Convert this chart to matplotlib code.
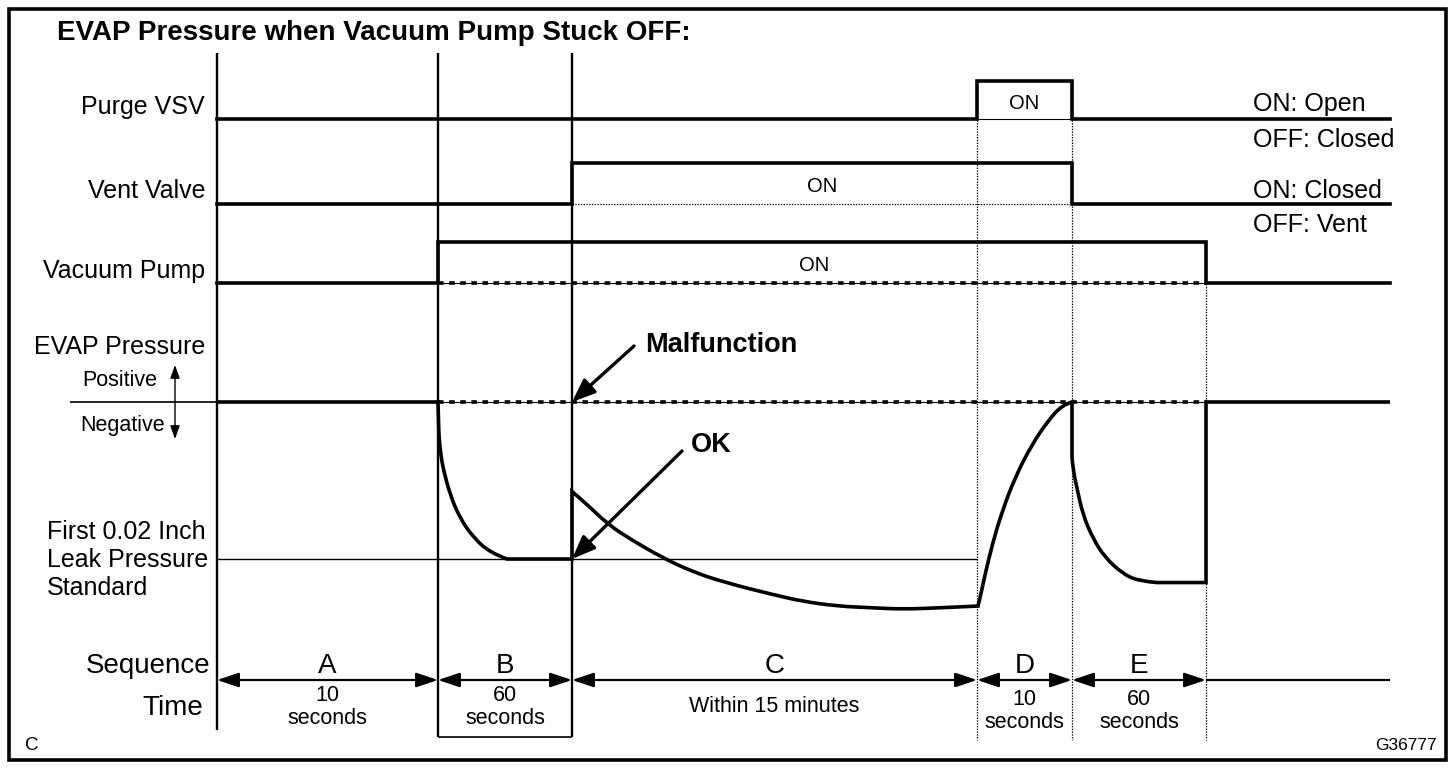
import matplotlib
matplotlib.use('Agg')
import matplotlib.pyplot as plt
from matplotlib.patches import Rectangle, PathPatch
from matplotlib.path import Path

plt.rcParams['font.family'] = ['Liberation Sans', 'DejaVu Sans']
plt.rcParams['lines.scale_dashes'] = False

# ---------------- data ----------------
phase_names = ['A', 'B', 'C', 'D', 'E']
phase_edges = [0.0, 2.21, 3.55, 7.60, 8.55, 9.89]     # schematic time axis
chart_end = 11.73
phase_time_labels = ['10\nseconds', '60\nseconds', 'Within 15 minutes',
                     '10\nseconds', '60\nseconds']

signal_names = ['Purge VSV', 'Vent Valve', 'Vacuum Pump']
# state per phase A..E, then after E
purge_vsv_state = [0, 0, 0, 1, 0, 0]
vent_valve_state = [0, 0, 1, 1, 0, 0]
vacuum_pump_state = [0, 1, 1, 1, 1, 0]
state_meanings = [['ON: Open', 'OFF: Closed'], ['ON: Closed', 'OFF: Vent']]

# EVAP pressure (0 = atmospheric, -1 = first 0.02 inch leak standard)
evap_b_t = [2.21, 2.215, 2.22, 2.24, 2.26, 2.33, 2.43, 2.56, 2.73, 2.90]
evap_b_p = [0.0, -0.11, -0.23, -0.34, -0.42, -0.59, -0.74, -0.86, -0.96, -1.00]
evap_c_t = [3.55, 3.68, 3.91, 4.15, 4.45, 4.75, 5.08, 5.58, 5.86, 6.20, 6.53, 6.86, 7.26, 7.60]
evap_c_p = [-0.57, -0.64, -0.78, -0.88, -0.99, -1.08, -1.15, -1.23, -1.27, -1.30, -1.31,
            -1.32, -1.31, -1.30]
evap_d_t = [7.61, 7.63, 7.68, 7.76, 7.85, 7.98, 8.15, 8.31, 8.45, 8.55]
evap_d_p = [-1.30, -1.25, -1.10, -0.89, -0.70, -0.48, -0.27, -0.12, -0.02, 0.0]
evap_e_t = [8.55, 8.56, 8.60, 8.66, 8.76, 8.88, 9.05, 9.21, 9.40]
evap_e_p = [-0.35, -0.43, -0.55, -0.72, -0.87, -0.99, -1.09, -1.14, -1.15]
evap_e_floor = -1.15
leak_standard = -1.0

# ---------------- layout ----------------
W, H = 1456, 768
X0, XS = 217, 100          # pixel of t=0, pixels per time unit
TXLIM = ((0 - X0) / XS, (W - X0) / XS)

fig = plt.figure(figsize=(W / 100, H / 100), dpi=100)
fig.patch.set_facecolor('white')


def overlay(xlim, ylim):
    a = fig.add_axes([0, 0, 1, 1], frameon=False)
    a.set_xlim(*xlim)
    a.set_ylim(*ylim)
    a.axis('off')
    return a


def track(zero_px, unit_px):
    return overlay(TXLIM, ((zero_px - H) / unit_px, zero_px / unit_px))


ax_px = overlay((0, W), (H, 0))          # pixel frame for labels
ax_tp = overlay(TXLIM, (H, 0))           # time x, pixel y
ax_purge = track(119, 38)
ax_vent = track(204, 41)
ax_pump = track(283, 41)
ax_pres = track(402, 157)

K = 'black'
THICK = 2.6
THIN = 0.8
DASH = (0, (4, 4))

# frame and title
ax_px.add_patch(Rectangle((9, 9), 1437, 751, fill=False, lw=2.6, ec=K))
ax_px.text(57, 33, 'EVAP Pressure when Vacuum Pump Stuck OFF:', fontsize=20,
           fontweight='bold', ha='left', va='center')

# vertical phase boundaries
solid_bottom = [730, 737, 737]
for x, yb in zip(phase_edges[:3], solid_bottom):
    ax_tp.vlines(x, 53, yb, color=K, lw=1.7)
dotted_top = [81, 81, 242]
for x, yt in zip(phase_edges[3:], dotted_top):
    ax_tp.vlines(x, yt, 740, color=K, lw=0.9, linestyles=(0, (1, 1)))
ax_tp.hlines(737, phase_edges[1], phase_edges[2], color=K, lw=1.2)

# digital signals
xs = phase_edges + [chart_end]
tracks = [(ax_purge, purge_vsv_state, dict(lw=THIN, ls='-')),
          (ax_vent, vent_valve_state, dict(lw=THIN, ls=(0, (1, 1)))),
          (ax_pump, vacuum_pump_state, dict(lw=THIN, ls='-'))]
for a, st, ref in tracks:
    ys = st + [st[-1]]
    a.step(xs, ys, where='post', color=K, lw=THICK, solid_joinstyle='miter')
    on = [i for i in range(5) if st[i] == 1]
    x_on0, x_on1 = phase_edges[on[0]], phase_edges[on[-1] + 1]
    a.hlines(0, x_on0, x_on1, color=K, **ref)
    if a is ax_pump:
        a.hlines(0, x_on0, x_on1, color=K, lw=2.6, linestyles=DASH)
    a.text((x_on0 + x_on1) / 2 - 0.08 * (a is ax_pump), 0.42, 'ON', fontsize=14.5,
           ha='center', va='center')

# pressure reference lines
ax_pres.hlines(0, (70 - X0) / XS, 0, color=K, lw=1.2)
ax_pres.hlines(0, phase_edges[1], phase_edges[5], color=K, lw=THIN)
ax_pres.hlines(0, phase_edges[1], phase_edges[5], color=K, lw=2.6, linestyles=DASH)
ax_pres.hlines(leak_standard, phase_edges[0], phase_edges[3], color=K, lw=1.0)

# pressure trace: straight pieces and smooth pieces (read points used as spline nodes)
verts, codes = [], []


def line_to(t, p):
    if not verts:
        verts.append((t, p)); codes.append(Path.MOVETO)
    else:
        verts.append((t, p)); codes.append(Path.LINETO)


def curve_through(ts, ps):
    line_to(ts[0], ps[0])
    n = len(ts)
    for i in range(1, n - 1):
        if i == n - 2:
            end = (ts[-1], ps[-1])
        else:
            end = ((ts[i] + ts[i + 1]) / 2, (ps[i] + ps[i + 1]) / 2)
        verts.extend([(ts[i], ps[i]), end]); codes.extend([Path.CURVE3, Path.CURVE3])


line_to(phase_edges[0], 0.0)
line_to(phase_edges[1], 0.0)
curve_through(evap_b_t, evap_b_p)
line_to(phase_edges[2], evap_b_p[-1])
curve_through(evap_c_t, evap_c_p)
curve_through(evap_d_t, evap_d_p)
curve_through(evap_e_t, evap_e_p)
line_to(phase_edges[5], evap_e_floor)
line_to(phase_edges[5], 0.0)
line_to(chart_end, 0.0)
ax_pres.add_patch(PathPatch(Path(verts, codes), fill=False, ec=K, lw=THICK,
                            joinstyle='miter', capstyle='butt'))

arrow_kw = dict(arrowstyle='-|>,head_length=0.7,head_width=0.28', color=K, lw=2.4,
                shrinkA=0, shrinkB=0, mutation_scale=20)
ax_pres.annotate('', xy=(phase_edges[2], 0), xytext=(62, 56), textcoords='offset pixels',
                 arrowprops=arrow_kw)
ax_pres.annotate('', xy=(phase_edges[2], leak_standard), xytext=(110, 108),
                 textcoords='offset pixels', arrowprops=arrow_kw)
ax_px.text(645, 345, 'Malfunction', fontsize=19.5, fontweight='bold', ha='left', va='center')
ax_px.text(691, 445, 'OK', fontsize=19.5, fontweight='bold', ha='left', va='center')

# row labels
LBL = 18
for name, y in zip(signal_names + ['EVAP Pressure'], [107, 191, 271, 347]):
    ax_px.text(205, y, name, fontsize=LBL, ha='right', va='center')
ax_px.text(82, 381, 'Positive', fontsize=15.5, ha='left', va='center')
ax_px.text(80, 425, 'Negative', fontsize=15.5, ha='left', va='center')
ax_px.annotate('', xy=(175, 365), xytext=(175, 439),
               arrowprops=dict(arrowstyle='<|-|>,head_length=0.5,head_width=0.18', color=K,
                               lw=1.0, shrinkA=0, shrinkB=0, mutation_scale=16))
for txt, y in zip(['First 0.02 Inch', 'Leak Pressure', 'Standard'], [532, 560, 588]):
    ax_px.text(47, y, txt, fontsize=LBL, ha='left', va='center')

for (on_txt, off_txt), (y1, y2) in zip(state_meanings, [(104, 140), (191, 225)]):
    ax_px.text(1253, y1, on_txt, fontsize=LBL, ha='left', va='center')
    ax_px.text(1253, y2, off_txt, fontsize=LBL, ha='left', va='center')

# sequence / time
ax_px.text(210, 666, 'Sequence', fontsize=20, ha='right', va='center')
ax_px.text(203, 708, 'Time', fontsize=20, ha='right', va='center')
SEQ_Y = 680
seq_kw = dict(arrowstyle='<|-|>,head_length=1.2,head_width=0.4', color=K, lw=1.6,
              shrinkA=0, shrinkB=0, mutation_scale=11)
time_y = [707, 707, 707, 711, 711]
for i, name in enumerate(phase_names):
    x0, x1 = phase_edges[i], phase_edges[i + 1]
    ax_tp.annotate('', xy=(x1, SEQ_Y), xytext=(x0, SEQ_Y), arrowprops=seq_kw)
    xc = (x0 + x1) / 2
    ax_tp.text(xc, 666, name, fontsize=20, ha='center', va='center')
    ax_tp.text(xc, time_y[i], phase_time_labels[i], fontsize=15.5, ha='center',
               va='center', linespacing=1.15)
ax_tp.hlines(SEQ_Y, phase_edges[-1], chart_end, color=K, lw=1.6)

ax_px.text(25, 745, 'C', fontsize=13.5, ha='left', va='center')
ax_px.text(1437, 745, 'G36777', fontsize=12.5, ha='right', va='center')

fig.savefig('out.png', dpi=100, facecolor='white')
